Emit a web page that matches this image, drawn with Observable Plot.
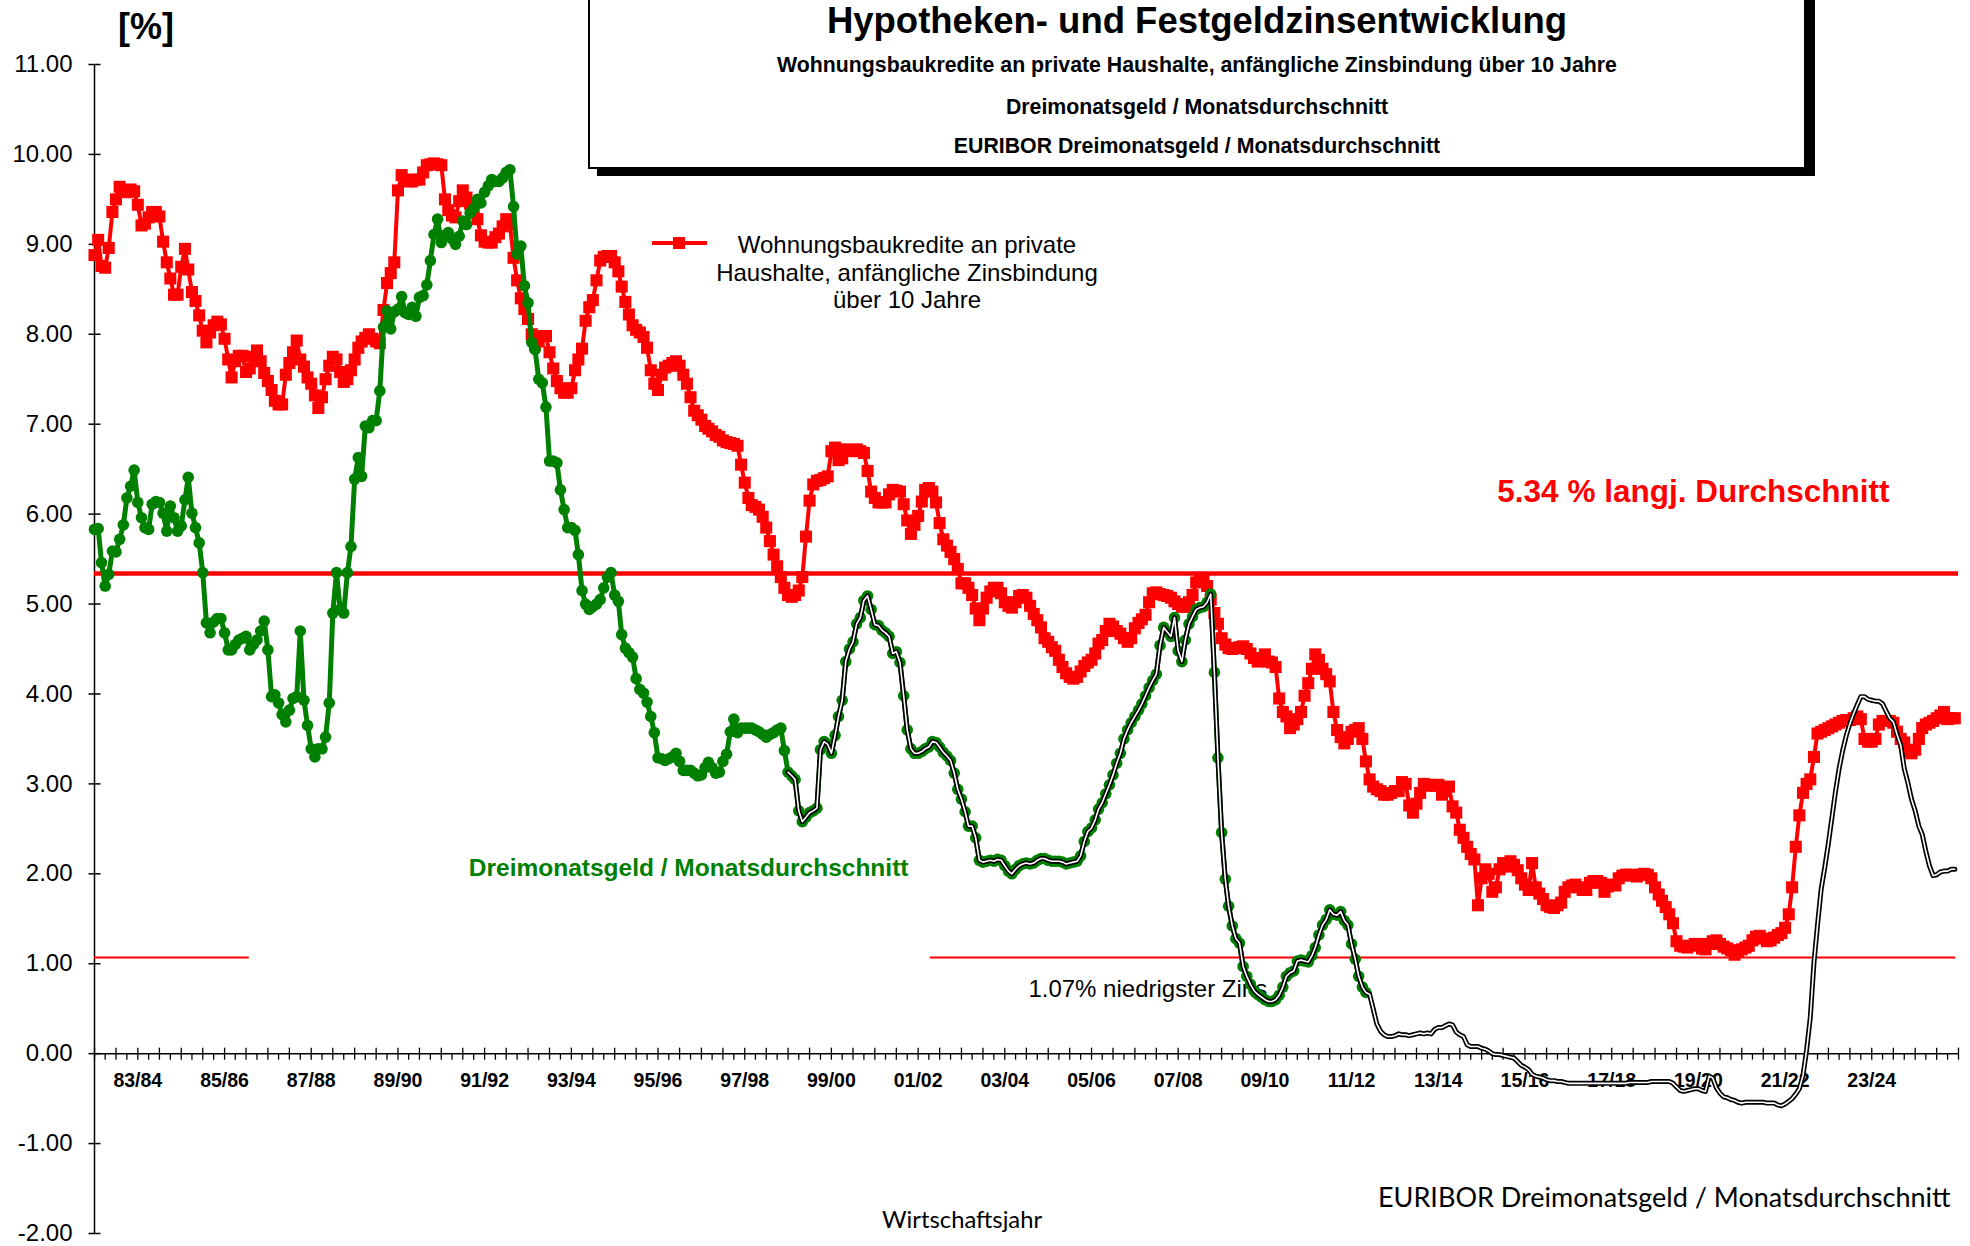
<!DOCTYPE html>
<html>
<head>
<meta charset="utf-8">
<script src="https://cdn.jsdelivr.net/npm/d3@7"></script>
<script src="https://cdn.jsdelivr.net/npm/@observablehq/plot@0.6"></script>
<style>
  html, body { margin: 0; padding: 0; background: #fff; }
  #wrap { position: relative; width: 1970px; height: 1246px; overflow: hidden; font-family: "Liberation Sans", Arial, sans-serif; color: #000; }
  #chart { position: absolute; left: 0; top: 0; }
  .abs { position: absolute; white-space: nowrap; }
  #titlebox { position: absolute; left: 588px; top: -12px; width: 1214px; height: 177px; border: 2px solid #000; background: #fff; box-shadow: 9px 7px 0 #000; }
  .tline { position: absolute; left: 588px; width: 1218px; text-align: center; font-family: "Liberation Sans", Arial, sans-serif; font-weight: bold; }
</style>
</head>
<body>
<div id="wrap">
  <div id="chart"></div>
  <div id="titlebox"></div>
  <div class="tline" style="top:0px;font-size:36.5px;line-height:42px;">Hypotheken- und Festgeldzinsentwicklung</div>
  <div class="tline" style="top:53px;font-size:21.3px;line-height:24px;">Wohnungsbaukredite an private Haushalte, anfängliche Zinsbindung über 10 Jahre</div>
  <div class="tline" style="top:95px;font-size:21.3px;line-height:24px;">Dreimonatsgeld / Monatsdurchschnitt</div>
  <div class="tline" style="top:134px;font-size:21.3px;line-height:24px;">EURIBOR Dreimonatsgeld / Monatsdurchschnitt</div>
  <div class="abs" style="left:118px;top:6px;font-size:36px;font-weight:bold;line-height:42px;">[%]</div>
  <svg class="abs" style="left:648px;top:233px;" width="64" height="20">
    <line x1="4" y1="10" x2="59" y2="10" stroke="#ff0000" stroke-width="4"></line>
    <rect x="25" y="4" width="12" height="12" fill="#ff0000"></rect>
  </svg>
  <div class="abs" style="left:707px;top:231px;width:400px;text-align:center;font-size:24px;line-height:27.5px;">Wohnungsbaukredite an private<br>Haushalte, anfängliche Zinsbindung<br>über 10 Jahre</div>
  <div class="abs" style="left:882px;top:1204px;font-family:Lato, 'Open Sans', sans-serif;font-size:23.8px;line-height:30px;">Wirtschaftsjahr</div>
  <div class="abs" style="left:1378px;top:1181px;font-family:Lato, 'Open Sans', sans-serif;font-size:27px;line-height:32px;">EURIBOR Dreimonatsgeld / Monatsdurchschnitt</div>
</div>
<script>
// ---------------- data (monthly averages) ----------------
// Wohnungsbaukredite an private Haushalte, anfängliche Zinsbindung über 10 Jahre, Jan 1983 – Dec 2025
const hypothekenZins = [
  8.88, 9.05, 8.76, 8.74, 8.96, 9.36, 9.50, 9.64, 9.60, 9.58, 9.61, 9.59, // 1983
  9.44, 9.21, 9.23, 9.30, 9.36, 9.36, 9.31, 9.03, 8.80, 8.62, 8.44, 8.44, // 1984
  8.75, 8.95, 8.72, 8.47, 8.37, 8.21, 8.04, 7.91, 8.02, 8.10, 8.14, 8.11, // 1985
  7.95, 7.72, 7.52, 7.70, 7.76, 7.76, 7.58, 7.62, 7.75, 7.82, 7.70, 7.57, // 1986
  7.48, 7.38, 7.26, 7.22, 7.22, 7.55, 7.68, 7.80, 7.93, 7.72, 7.64, 7.52, // 1987
  7.45, 7.32, 7.18, 7.30, 7.50, 7.65, 7.75, 7.72, 7.58, 7.47, 7.50, 7.60, // 1988
  7.72, 7.85, 7.92, 7.96, 8.00, 7.95, 7.92, 7.90, 8.27, 8.57, 8.68, 8.80, // 1989
  9.60, 9.77, 9.72, 9.70, 9.70, 9.72, 9.72, 9.80, 9.88, 9.89, 9.90, 9.89, // 1990
  9.88, 9.50, 9.38, 9.32, 9.30, 9.48, 9.60, 9.52, 9.45, 9.38, 9.28, 9.10, // 1991
  9.03, 9.02, 9.02, 9.08, 9.12, 9.20, 9.28, 9.22, 8.85, 8.60, 8.40, 8.28, // 1992
  8.17, 8.00, 7.88, 7.92, 7.98, 7.98, 7.80, 7.62, 7.48, 7.40, 7.35, 7.35, // 1993
  7.40, 7.60, 7.72, 7.84, 8.15, 8.30, 8.38, 8.60, 8.82, 8.86, 8.87, 8.87, // 1994
  8.80, 8.70, 8.53, 8.36, 8.22, 8.10, 8.05, 8.02, 7.97, 7.85, 7.60, 7.45, // 1995
  7.38, 7.55, 7.63, 7.65, 7.68, 7.70, 7.65, 7.55, 7.45, 7.30, 7.15, 7.10, // 1996
  7.05, 6.98, 6.95, 6.92, 6.88, 6.86, 6.82, 6.80, 6.79, 6.78, 6.76, 6.55, // 1997
  6.35, 6.18, 6.10, 6.08, 6.05, 5.97, 5.85, 5.70, 5.55, 5.42, 5.30, 5.18, // 1998
  5.10, 5.08, 5.10, 5.15, 5.30, 5.75, 6.15, 6.33, 6.37, 6.38, 6.40, 6.42, // 1999
  6.70, 6.74, 6.60, 6.62, 6.72, 6.70, 6.71, 6.72, 6.70, 6.68, 6.48, 6.25, // 2000
  6.18, 6.13, 6.13, 6.13, 6.22, 6.27, 6.26, 6.25, 6.11, 5.93, 5.78, 5.88, // 2001
  5.98, 6.14, 6.27, 6.29, 6.25, 6.13, 5.90, 5.72, 5.65, 5.58, 5.50, 5.39, // 2002
  5.23, 5.23, 5.18, 5.10, 4.95, 4.82, 4.95, 5.07, 5.14, 5.18, 5.18, 5.12, // 2003
  5.02, 4.98, 4.96, 5.02, 5.09, 5.10, 5.07, 4.98, 4.89, 4.82, 4.74, 4.62, // 2004
  4.58, 4.52, 4.48, 4.38, 4.30, 4.23, 4.19, 4.17, 4.19, 4.25, 4.31, 4.35, // 2005
  4.38, 4.45, 4.56, 4.60, 4.70, 4.78, 4.75, 4.70, 4.67, 4.62, 4.58, 4.62, // 2006
  4.73, 4.79, 4.83, 4.88, 5.02, 5.12, 5.13, 5.11, 5.10, 5.09, 5.07, 5.03, // 2007
  5.00, 4.97, 4.97, 5.02, 5.10, 5.24, 5.29, 5.28, 5.20, 5.05, 4.90, 4.78, // 2008
  4.62, 4.55, 4.51, 4.50, 4.51, 4.52, 4.53, 4.50, 4.45, 4.40, 4.36, 4.38, // 2009
  4.44, 4.36, 4.35, 4.30, 3.95, 3.80, 3.75, 3.62, 3.66, 3.72, 3.80, 3.98, // 2010
  4.12, 4.28, 4.44, 4.38, 4.28, 4.22, 4.14, 3.80, 3.60, 3.52, 3.45, 3.50, // 2011
  3.58, 3.60, 3.62, 3.50, 3.25, 3.05, 2.97, 2.94, 2.92, 2.88, 2.88, 2.90, // 2012
  2.92, 2.92, 3.02, 3.00, 2.76, 2.68, 2.78, 2.90, 3.00, 2.99, 2.98, 2.98, // 2013
  2.99, 2.88, 2.92, 2.97, 2.75, 2.68, 2.49, 2.40, 2.30, 2.22, 2.16, 1.65, // 2014
  1.95, 2.05, 2.00, 1.80, 1.85, 2.05, 2.12, 2.08, 2.14, 2.10, 2.04, 1.95, // 2015
  1.88, 1.82, 2.12, 1.85, 1.78, 1.72, 1.65, 1.63, 1.62, 1.65, 1.68, 1.80, // 2016
  1.85, 1.87, 1.88, 1.85, 1.82, 1.82, 1.90, 1.92, 1.92, 1.90, 1.80, 1.86, // 2017
  1.88, 1.87, 1.95, 1.98, 1.99, 1.99, 1.98, 1.97, 1.99, 2.00, 1.99, 1.95, // 2018
  1.85, 1.77, 1.70, 1.63, 1.55, 1.45, 1.25, 1.20, 1.19, 1.18, 1.20, 1.22, // 2019
  1.22, 1.17, 1.16, 1.22, 1.25, 1.26, 1.22, 1.19, 1.17, 1.15, 1.10, 1.13, // 2020
  1.16, 1.18, 1.20, 1.26, 1.30, 1.31, 1.28, 1.25, 1.26, 1.29, 1.32, 1.34, // 2021
  1.40, 1.55, 1.85, 2.30, 2.65, 2.90, 3.00, 3.05, 3.30, 3.56, 3.58, 3.60, // 2022
  3.62, 3.64, 3.66, 3.68, 3.70, 3.71, 3.71, 3.73, 3.75, 3.72, 3.50, 3.47, // 2023
  3.47, 3.50, 3.66, 3.70, 3.70, 3.70, 3.68, 3.58, 3.50, 3.46, 3.36, 3.34, // 2024
  3.38, 3.50, 3.62, 3.66, 3.68, 3.70, 3.73, 3.76, 3.80, 3.72, 3.73, 3.73  // 2025
];

// Dreimonatsgeld / Monatsdurchschnitt, Jan 1983 – Dec 1998
const dreimonatsgeld = [
  5.83, 5.84, 5.46, 5.20, 5.33, 5.59, 5.58, 5.72, 5.88, 6.18, 6.31, 6.49, // 1983
  6.13, 5.96, 5.85, 5.83, 6.11, 6.14, 6.13, 6.01, 5.81, 6.09, 5.96, 5.81, // 1984
  5.87, 6.16, 6.41, 6.01, 5.85, 5.68, 5.35, 4.79, 4.68, 4.80, 4.84, 4.84, // 1985
  4.68, 4.49, 4.49, 4.55, 4.60, 4.62, 4.64, 4.49, 4.55, 4.60, 4.70, 4.81, // 1986
  4.49, 3.97, 3.99, 3.90, 3.77, 3.69, 3.82, 3.95, 3.97, 4.70, 3.93, 3.65, // 1987
  3.39, 3.30, 3.39, 3.39, 3.52, 3.90, 4.90, 5.35, 4.94, 4.90, 5.35, 5.64, // 1988
  6.39, 6.63, 6.42, 6.98, 6.96, 7.04, 7.04, 7.37, 8.08, 8.26, 8.06, 8.25, // 1989
  8.28, 8.42, 8.24, 8.22, 8.30, 8.20, 8.41, 8.43, 8.55, 8.82, 9.11, 9.28, // 1990
  9.02, 9.10, 9.13, 9.06, 9.00, 9.09, 9.26, 9.22, 9.35, 9.40, 9.50, 9.46, // 1991
  9.58, 9.65, 9.72, 9.70, 9.70, 9.74, 9.80, 9.83, 9.42, 8.89, 8.98, 8.54, // 1992
  8.35, 7.91, 7.83, 7.50, 7.46, 7.19, 6.59, 6.59, 6.57, 6.27, 6.05, 5.85, // 1993
  5.85, 5.82, 5.55, 5.15, 5.00, 4.94, 4.97, 5.00, 5.05, 5.18, 5.30, 5.35, // 1994
  5.10, 5.03, 4.66, 4.51, 4.46, 4.41, 4.17, 4.05, 4.01, 3.91, 3.75, 3.57, // 1995
  3.29, 3.28, 3.26, 3.28, 3.30, 3.34, 3.25, 3.15, 3.15, 3.15, 3.12, 3.09, // 1996
  3.10, 3.18, 3.24, 3.18, 3.12, 3.13, 3.25, 3.33, 3.58, 3.72, 3.57, 3.62, // 1997
  3.62, 3.62, 3.62, 3.60, 3.58, 3.55, 3.52, 3.55, 3.57, 3.60, 3.62, 3.37  // 1998
];

// EURIBOR Dreimonatsgeld / Monatsdurchschnitt, Jan 1999 – Dec 2025
const euribor = [
  3.13, 3.09, 3.05, 2.70, 2.58, 2.63, 2.68, 2.70, 2.73, 3.38, 3.47, 3.44, // 1999
  3.34, 3.54, 3.75, 3.93, 4.36, 4.50, 4.58, 4.78, 4.85, 5.04, 5.09, 4.94, // 2000
  4.77, 4.76, 4.71, 4.68, 4.64, 4.45, 4.47, 4.35, 3.98, 3.60, 3.39, 3.34, // 2001
  3.34, 3.36, 3.39, 3.41, 3.47, 3.46, 3.41, 3.35, 3.31, 3.26, 3.12, 2.94, // 2002
  2.83, 2.69, 2.53, 2.53, 2.40, 2.15, 2.13, 2.14, 2.15, 2.14, 2.16, 2.15, // 2003
  2.09, 2.03, 2.00, 2.05, 2.09, 2.11, 2.12, 2.11, 2.12, 2.15, 2.17, 2.17, // 2004
  2.15, 2.14, 2.14, 2.14, 2.13, 2.11, 2.12, 2.13, 2.14, 2.20, 2.36, 2.47, // 2005
  2.51, 2.60, 2.72, 2.79, 2.89, 2.99, 3.10, 3.23, 3.34, 3.50, 3.60, 3.68, // 2006
  3.75, 3.82, 3.89, 3.98, 4.07, 4.15, 4.22, 4.54, 4.74, 4.69, 4.64, 4.85, // 2007
  4.48, 4.36, 4.60, 4.78, 4.86, 4.94, 4.96, 4.97, 5.02, 5.11, 4.24, 3.29, // 2008
  2.46, 1.94, 1.64, 1.42, 1.28, 1.23, 0.97, 0.86, 0.77, 0.70, 0.66, 0.63, // 2009
  0.60, 0.58, 0.58, 0.60, 0.65, 0.74, 0.86, 0.90, 0.92, 1.03, 1.04, 1.03, // 2010
  1.02, 1.09, 1.18, 1.32, 1.43, 1.49, 1.60, 1.55, 1.54, 1.58, 1.48, 1.43, // 2011
  1.22, 1.05, 0.86, 0.74, 0.68, 0.66, 0.50, 0.33, 0.25, 0.21, 0.19, 0.19, // 2012
  0.20, 0.22, 0.21, 0.21, 0.20, 0.21, 0.22, 0.23, 0.22, 0.23, 0.22, 0.27, // 2013
  0.29, 0.29, 0.31, 0.33, 0.32, 0.24, 0.21, 0.19, 0.10, 0.08, 0.08, 0.08, // 2014
  0.06, 0.05, 0.03, 0.00, -0.01, -0.01, -0.02, -0.03, -0.04, -0.05, -0.09, -0.13, // 2015
  -0.15, -0.18, -0.23, -0.25, -0.26, -0.27, -0.29, -0.30, -0.30, -0.31, -0.31, -0.32, // 2016
  -0.33, -0.33, -0.33, -0.33, -0.33, -0.33, -0.33, -0.33, -0.33, -0.33, -0.33, -0.33, // 2017
  -0.33, -0.33, -0.33, -0.33, -0.33, -0.32, -0.32, -0.32, -0.32, -0.32, -0.32, -0.31, // 2018
  -0.31, -0.31, -0.31, -0.31, -0.31, -0.33, -0.37, -0.41, -0.42, -0.41, -0.40, -0.39, // 2019
  -0.39, -0.41, -0.42, -0.25, -0.27, -0.38, -0.44, -0.48, -0.49, -0.51, -0.52, -0.54, // 2020
  -0.55, -0.54, -0.54, -0.54, -0.54, -0.54, -0.54, -0.55, -0.55, -0.55, -0.57, -0.58, // 2021
  -0.56, -0.53, -0.50, -0.45, -0.39, -0.24, 0.04, 0.40, 1.01, 1.43, 1.83, 2.07, // 2022
  2.34, 2.64, 2.91, 3.17, 3.37, 3.54, 3.67, 3.78, 3.88, 3.97, 3.97, 3.94, // 2023
  3.93, 3.92, 3.92, 3.89, 3.81, 3.73, 3.69, 3.55, 3.43, 3.17, 3.01, 2.83, // 2024
  2.70, 2.53, 2.44, 2.25, 2.09, 1.98, 1.99, 2.02, 2.03, 2.03, 2.05, 2.05  // 2025
];

const greenLastMonth = "2012-05";          // Dreimonatsgeld line with markers ends here
const langjDurchschnitt = 5.34;
const niedrigsterZins = 1.07;
const yTicks = [-2, -1, 0, 1, 2, 3, 4, 5, 6, 7, 8, 9, 10, 11];
const xTickLabels = ["83/84","85/86","87/88","89/90","91/92","93/94","95/96","97/98","99/00","01/02",
                     "03/04","05/06","07/08","09/10","11/12","13/14","15/16","17/18","19/20","21/22","23/24"];

// ---------------- build tables ----------------
const monthDate = (y, m) => new Date(Date.UTC(y, m, 1));
const startDate = monthDate(1983, 0), endDate = monthDate(2026, 0);
const hypo = hypothekenZins.map((v, i) => ({date: monthDate(1983, i), value: v}));
const eur = euribor.map((v, i) => ({date: monthDate(1999, i), value: v}));
const [gy, gm] = greenLastMonth.split("-").map(Number);
const greenEnd = monthDate(gy, gm - 1);
const green = dreimonatsgeld.map((v, i) => ({date: monthDate(1983, i), value: v}))
  .concat(eur.filter(d => d.date <= greenEnd));
const labelData = xTickLabels.map(t => {
  const y2 = +t.split("/")[1];
  return {label: t, date: monthDate(y2 < 50 ? 2000 + y2 : 1900 + y2, 0)};
});
const majorTicks = d3.utcMonth.every(6).range(startDate, d3.utcDay.offset(endDate, 1));
const minorTicks = d3.utcMonth.every(3).range(startDate, endDate).filter(d => d.getUTCMonth() % 6 === 3);

// tick symbols
const crossTick = {draw(c) { c.moveTo(0, -6); c.lineTo(0, 6); }};
const downTick = {draw(c) { c.moveTo(0, 0); c.lineTo(0, 6); }};
const hTick = {draw(c) { c.moveTo(-6, 0); c.lineTo(6, 0); }};

const F = "Liberation Sans, Arial, sans-serif";

const chart = Plot.plot({
  width: 1970,
  height: 1246,
  marginLeft: 94,
  marginRight: 12,
  marginTop: 64,
  marginBottom: 13,
  style: {background: "#fff", fontFamily: F, color: "#000", overflow: "visible"},
  x: {type: "utc", domain: [startDate, endDate], axis: null},
  y: {domain: [-2, 11], axis: null},
  marks: [
    // y axis
    Plot.ruleX([startDate], {y1: -2, y2: 11, stroke: "#000", strokeWidth: 1.5}),
    Plot.dot(yTicks, {x: () => startDate, y: d => d, symbol: hTick, stroke: "#000", fill: "none", strokeWidth: 1.5}),
    Plot.text(yTicks, {y: d => d, frameAnchor: "left", dx: -22, textAnchor: "end", text: d => d.toFixed(2), fontSize: 24, fontFamily: F, fill: "#000"}),
    // x axis at zero
    Plot.ruleY([0], {stroke: "#000", strokeWidth: 1.5}),
    Plot.dot(majorTicks, {x: d => d, y: 0, symbol: crossTick, stroke: "#000", fill: "none", strokeWidth: 1.3}),
    Plot.dot(minorTicks, {x: d => d, y: 0, symbol: downTick, stroke: "#000", fill: "none", strokeWidth: 1.3}),
    Plot.text(labelData, {x: "date", y: 0, dy: 27, text: "label", fontSize: 19.5, fontWeight: "bold", fontFamily: F, fill: "#000"}),
    // reference lines
    Plot.ruleY([langjDurchschnitt], {stroke: "#ff0000", strokeWidth: 4.5}),
    Plot.ruleY([niedrigsterZins], {x1: startDate, x2: new Date(Date.UTC(1986, 6, 28)), stroke: "#ff0000", strokeWidth: 2}),
    Plot.ruleY([niedrigsterZins], {x1: new Date(Date.UTC(2002, 3, 13)), x2: new Date(Date.UTC(2025, 11, 8)), stroke: "#ff0000", strokeWidth: 2}),
    // annotations
    Plot.text(["5.34 % langj. Durchschnitt"], {x: () => new Date(Date.UTC(2019, 10, 20)), y: 6.25, text: d => d, fontSize: 31.5, fontWeight: "bold", fill: "#ff0000", fontFamily: F}),
    Plot.text(["Dreimonatsgeld / Monatsdurchschnitt"], {x: () => new Date(Date.UTC(1996, 8, 15)), y: 2.06, text: d => d, fontSize: 24.5, fontWeight: "bold", fill: "#008000", fontFamily: F}),
    Plot.text(["1.07% niedrigster Zins"], {x: () => new Date(Date.UTC(2004, 6, 18)), y: 0.71, text: d => d, textAnchor: "start", fontSize: 24, fill: "#000", fontFamily: F}),
    // Wohnungsbaukredite
    Plot.line(hypo, {x: "date", y: "value", stroke: "#ff0000", strokeWidth: 4}),
    Plot.dot(hypo, {x: "date", y: "value", symbol: "square", r: 6.8, fill: "#ff0000"}),
    // Dreimonatsgeld
    Plot.line(green, {x: "date", y: "value", stroke: "#008000", strokeWidth: 5}),
    Plot.dot(green, {x: "date", y: "value", r: 5.8, fill: "#008000"}),
    // EURIBOR (double line)
    Plot.line(eur, {x: "date", y: "value", stroke: "#000", strokeWidth: 5}),
    Plot.line(eur, {x: "date", y: "value", stroke: "#fff", strokeWidth: 1.6})
  ]
});
document.getElementById("chart").appendChild(chart);
</script>
</body>
</html>
